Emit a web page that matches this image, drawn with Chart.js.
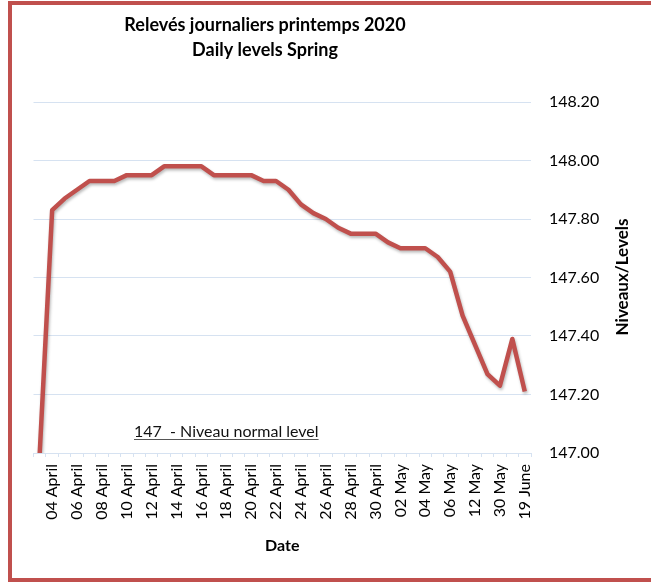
<!DOCTYPE html>
<html>
<head>
<meta charset="utf-8">
<script src="https://cdn.jsdelivr.net/npm/chart.js@4"></script>
<style>
  html, body { margin: 0; padding: 0; background: #fff; overflow: hidden; }
  #frame {
    position: absolute; left: 8px; top: 1px;
    width: 700px; height: 581px; box-sizing: border-box;
    border: 4px solid #C0504D; background: #fff;
  }
  #wrap { position: absolute; left: 0; top: 0; width: 651px; height: 582px; }
</style>
</head>
<body>
<div id="frame"></div>
<div id="wrap"><canvas id="chart" width="651" height="582"></canvas></div>
<script>
const dates = [
    '03 April', '04 April', '05 April', '06 April', '07 April', '08 April', '09 April', '10 April',
    '11 April', '12 April', '13 April', '14 April', '15 April', '16 April', '17 April', '18 April',
    '19 April', '20 April', '21 April', '22 April', '23 April', '24 April', '25 April', '26 April',
    '27 April', '28 April', '29 April', '30 April', '01 May', '02 May', '03 May', '04 May',
    '05 May', '06 May', '08 May', '12 May', '20 May', '30 May', '10 June', '19 June'
];
const levels = [
    147.00, 147.83, 147.87, 147.90, 147.93, 147.93, 147.93, 147.95,
    147.95, 147.95, 147.98, 147.98, 147.98, 147.98, 147.95, 147.95,
    147.95, 147.95, 147.93, 147.93, 147.90, 147.85, 147.82, 147.80,
    147.77, 147.75, 147.75, 147.75, 147.72, 147.70, 147.70, 147.70,
    147.67, 147.62, 147.47, 147.37, 147.27, 147.23, 147.39, 147.21
];
const titleLines = ['Relevés journaliers printemps 2020', 'Daily levels Spring'];
const yTitle = 'Niveaux/Levels';
const note = '147  - Niveau normal level';

const gridBlue = '#D6E2F1';

// title, rotated y title, note and line shadow
const decorations = {
    id: 'decorations',
    beforeDatasetsDraw(chart) {
        const ctx = chart.ctx;
        ctx.save();
        ctx.shadowColor = 'rgba(0,0,0,0.28)';
        ctx.shadowBlur = 3;
        ctx.shadowOffsetX = 1;
        ctx.shadowOffsetY = 2;
    },
    afterDatasetsDraw(chart) {
        chart.ctx.restore();
    },
    afterDraw(chart) {
        const ctx = chart.ctx;
        const area = chart.chartArea;
        ctx.save();
        ctx.fillStyle = '#000';
        ctx.textAlign = 'center';
        ctx.textBaseline = 'alphabetic';
        ctx.font = 'bold 18px Lato';
        ctx.fillText(titleLines[0], 265, 31);
        ctx.fillText(titleLines[1], 265, 56);

        ctx.save();
        ctx.translate(628, 277);
        ctx.rotate(-Math.PI / 2);
        ctx.font = 'bold 17px Lato';
        ctx.fillText(yTitle, 0, 0);
        ctx.restore();

        ctx.font = '16px Lato';
        ctx.textAlign = 'left';
        ctx.fillStyle = '#111';
        const nx = area.left + 100.5;
        const ny = area.bottom - 16;
        ctx.fillText(note, nx, ny);
        const w = ctx.measureText(note).width;
        ctx.strokeStyle = '#555';
        ctx.lineWidth = 1.2;
        ctx.beginPath();
        ctx.moveTo(nx, ny + 2.5);
        ctx.lineTo(nx + w, ny + 2.5);
        ctx.stroke();
        ctx.restore();
    }
};

new Chart(document.getElementById('chart'), {
    type: 'line',
    data: {
        labels: dates,
        datasets: [{
            data: levels,
            borderColor: '#C0504D',
            borderWidth: 4.5,
            borderJoinStyle: 'round',
            pointRadius: 0,
            tension: 0,
            fill: false
        }]
    },
    options: {
        responsive: false,
        animation: false,
        layout: { padding: { left: 33.5, top: 102, right: 0, bottom: 0 } },
        plugins: {
            legend: { display: false },
            title: { display: false },
            tooltip: { enabled: false }
        },
        scales: {
            x: {
                offset: true,
                grid: {
                    offset: true,
                    drawOnChartArea: false,
                    drawTicks: true,
                    tickLength: 4,
                    color: gridBlue
                },
                border: { color: gridBlue, width: 1 },
                ticks: {
                    autoSkip: false,
                    maxRotation: 90,
                    minRotation: 90,
                    padding: 7,
                    color: '#000',
                    font: { family: 'Lato', size: 16 },
                    callback: function (value, index) {
                        return index % 2 === 1 ? dates[index] : '';
                    }
                },
                title: {
                    display: true,
                    text: 'Date',
                    color: '#000',
                    font: { family: 'Lato', size: 16, weight: 'bold' },
                    padding: { top: 0, bottom: 27 }
                },
                afterFit: function (scale) { scale.height = 129; }
            },
            y: {
                position: 'right',
                min: 147,
                max: 148.2,
                grid: { color: gridBlue, drawTicks: false },
                border: { display: false },
                ticks: {
                    stepSize: 0.2,
                    padding: 18,
                    color: '#000',
                    font: { family: 'Lato', size: 16 },
                    callback: function (value) { return value.toFixed(2); }
                },
                afterFit: function (scale) { scale.width = 120; }
            }
        }
    },
    plugins: [decorations]
});
</script>
</body>
</html>
